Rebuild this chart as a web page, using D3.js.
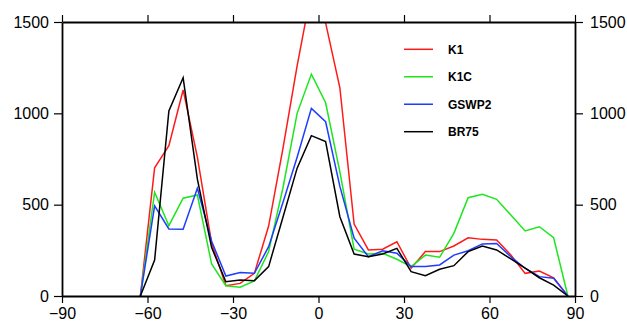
<!DOCTYPE html>
<html>
<head>
<meta charset="utf-8">
<script src="https://cdn.jsdelivr.net/npm/d3@7"></script>
<style>
html,body{margin:0;padding:0;background:#fff;}
svg{display:block;}
</style>
</head>
<body>
<svg id="chart" width="627" height="322"></svg>
<script>
const latitudes = [-62.5,-57.5,-52.5,-47.5,-42.5,-37.5,-32.5,-27.5,-22.5,-17.5,-12.5,-7.5,-2.5,2.5,7.5,12.5,17.5,22.5,27.5,32.5,37.5,42.5,47.5,52.5,57.5,62.5,67.5,72.5,77.5,82.5,87.5];
const K1    = [0,702,823,1128,760,290,56,69,124,383,805,1260,1670,1495,1140,394,252,256,297,152,243,243,274,319,310,307,224,124,137,100,0];
const K1C   = [0,568,385,535,553,175,56,48,82,243,590,1000,1215,1058,680,256,230,234,201,161,224,212,343,538,557,529,443,356,379,319,0];
const GSWP2 = [0,494,367,365,590,300,109,128,124,270,510,760,1027,954,600,316,215,248,234,161,161,170,224,248,285,288,215,152,106,97,0];
const BR75  = [0,197,1013,1195,640,265,78,88,84,161,430,700,878,845,434,230,215,230,261,133,111,146,166,243,274,252,203,152,100,60,0];
const seriesNames = ["K1","K1C","GSWP2","BR75"];
const seriesColors = ["#ff1a1a","#1ee61e","#1f3cff","#000000"];
const xTicks = [-90,-60,-30,0,30,60,90];
const yTicks = [0,500,1000,1500];

const seriesData = [K1, K1C, GSWP2, BR75];

const svg = d3.select("#chart");
const L = 62, R = 575, T = 22, B = 296;
const x = d3.scaleLinear().domain([-90,90]).range([L,R]);
const y = d3.scaleLinear().domain([0,1500]).range([B,T]);

svg.append("defs").append("clipPath").attr("id","clip")
  .append("rect").attr("x",L).attr("y",T).attr("width",R-L).attr("height",B-T);

const line = d3.line().x((d,i)=>x(latitudes[i])).y(d=>y(d));
const g = svg.append("g").attr("clip-path","url(#clip)");
seriesData.forEach((s,k)=>{
  g.append("path").datum(s).attr("d",line)
    .attr("fill","none").attr("stroke",seriesColors[k])
    .attr("stroke-width",1.5).attr("stroke-linejoin","miter");
});

const font = "'Liberation Sans', Arial, Helvetica, sans-serif";
function styleAxis(sel){
  sel.selectAll(".domain").attr("stroke","#000").attr("stroke-width",1.8);
  sel.selectAll(".tick line").attr("stroke","#000").attr("stroke-width",1.2);
  sel.selectAll("text").attr("font-family",font).attr("font-size",16).attr("fill","#000");
}
const fmt = d3.format("");
svg.append("g").attr("transform",`translate(0,${B})`)
  .call(d3.axisBottom(x).tickValues(xTicks).tickSize(7).tickSizeOuter(0).tickPadding(5).tickFormat(d=>d<0?"\u2212"+Math.abs(d):String(d)))
  .call(styleAxis);
svg.append("g").attr("transform",`translate(0,${T})`)
  .call(d3.axisTop(x).tickValues(xTicks).tickSize(7).tickSizeOuter(0).tickFormat(""))
  .call(styleAxis);
svg.append("g").attr("transform",`translate(${L},0)`)
  .call(d3.axisLeft(y).tickValues(yTicks).tickSize(8).tickSizeOuter(0).tickPadding(5).tickFormat(fmt))
  .call(styleAxis);
svg.append("g").attr("transform",`translate(${R},0)`)
  .call(d3.axisRight(y).tickValues(yTicks).tickSize(8).tickSizeOuter(0).tickPadding(7).tickFormat(fmt))
  .call(styleAxis);

const leg = svg.append("g");
const legY = d3.scaleLinear().domain([0,3]).range([49.3,131.7]);
seriesNames.forEach((n,k)=>{
  leg.append("line").attr("x1",404).attr("x2",433).attr("y1",legY(k)).attr("y2",legY(k))
    .attr("stroke",seriesColors[k]).attr("stroke-width",1.5);
  leg.append("text").attr("x",448).attr("y",legY(k)).attr("dy","0.36em")
    .attr("font-family",font).attr("font-size",12).attr("font-weight","bold").text(n);
});
</script>
</body>
</html>
